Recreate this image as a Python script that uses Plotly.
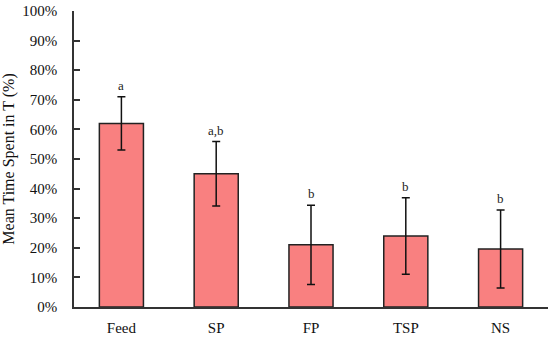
import plotly.graph_objects as go

categories = ["Feed", "SP", "FP", "TSP", "NS"]
means = [62, 45, 21, 24, 19.6]
errors = [9, 10.9, 13.4, 12.9, 13.2]
letters = ["a", "a,b", "b", "b", "b"]
ytick_vals = [0, 10, 20, 30, 40, 50, 60, 70, 80, 90, 100]
ytick_text = [f"{v}%" for v in ytick_vals]

font_family = "Liberation Serif, DejaVu Serif, serif"

fig = go.Figure()
fig.add_trace(go.Bar(
    x=categories,
    y=means,
    marker=dict(color="#F98080", line=dict(color="#222222", width=1.5)),
    error_y=dict(type="data", array=errors, visible=True, color="#111111",
                 thickness=1.5, width=4),
    width=0.465,
))

for c, m, e, l in zip(categories, means, errors, letters):
    fig.add_annotation(x=c, y=m + e, text=l, showarrow=False,
                       yanchor="bottom", yshift=2,
                       font=dict(family=font_family, size=13, color="#222222"))

fig.update_layout(
    width=550, height=337,
    margin=dict(l=74, r=2, t=11, b=30),
    plot_bgcolor="white", paper_bgcolor="white",
    showlegend=False,
    font=dict(family=font_family, size=15, color="#111111"),
)
fig.update_xaxes(
    showline=True, linecolor="#333333", linewidth=1.5,
    ticks="", showgrid=False, tickfont=dict(size=15),
    ticklabelstandoff=6,
)
fig.update_yaxes(
    range=[0, 100], tickvals=ytick_vals, ticktext=ytick_text,
    showline=True, linecolor="#333333", linewidth=1.5,
    ticks="inside", ticklen=6, tickcolor="#333333", tickwidth=1.5,
    showgrid=False, zeroline=False, tickfont=dict(size=15),
    ticklabelstandoff=12,
    title=dict(text="Mean Time Spent in T (%)", font=dict(size=16), standoff=6),
)

fig.write_html(
    "out.html",
    config={"displayModeBar": False},
    post_script="document.body.style.margin='0';document.body.style.overflow='hidden';",
)
